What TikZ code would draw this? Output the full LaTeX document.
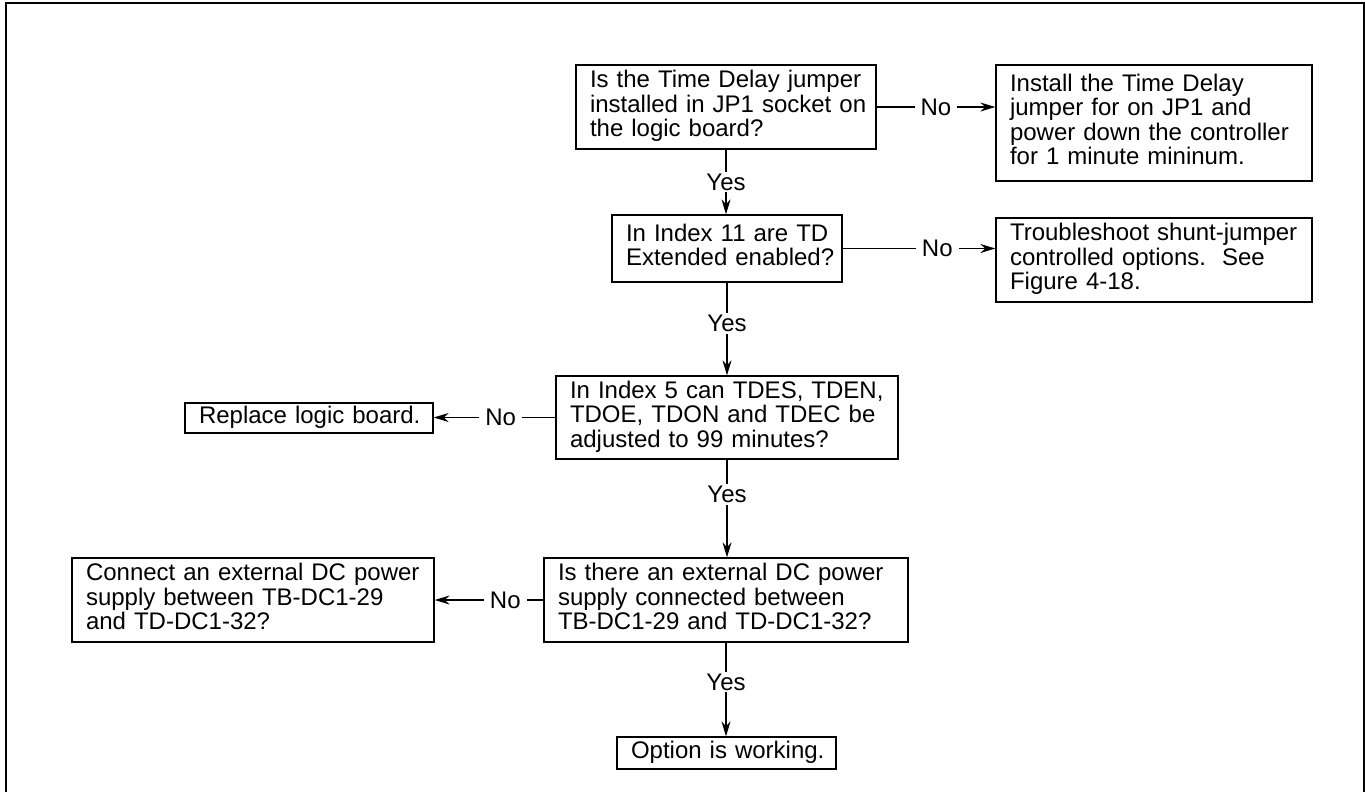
\documentclass[tikz,border=0pt]{standalone}
\usepackage{fontspec}
\setmainfont{Liberation Sans}
\usetikzlibrary{arrows.meta}

\newcommand{\boxlines}[1]{\begin{tabular}{@{}l@{}}#1\end{tabular}}

\tikzset{
  box/.style={draw, line width=1.3pt, align=left, inner xsep=14pt, inner ysep=0pt,
    font=\fontsize{24}{23.7}\selectfont},
  lbl/.style={fill=white, inner xsep=6pt, inner ysep=2pt,
    font=\fontsize{24}{23.7}\selectfont},
  arr/.style={line width=1.3pt, -{Stealth[length=15pt,width=9pt]}}
}

\begin{document}
\begin{tikzpicture}[x=1pt,y=-1pt]
  \useasboundingbox (0,0) rectangle (1365,792);
  \draw[line width=2.5pt] (6,792) -- (6,3) -- (1364,3) -- (1364,792);

  \node[box, text width=272pt, minimum height=84pt] (q1) at (726,107)
    {\boxlines{Is the Time Delay jumper\\installed in JP1 socket on\\the logic board?}};
  \node[box, text width=288pt, minimum height=116pt] (a1) at (1154,123)
    {\boxlines{Install the Time Delay\\jumper for on JP1 and\\power down the controller\\for 1 minute mininum.}};
  \node[box, text width=202pt, minimum height=67pt] (q2) at (727,248.5)
    {\boxlines{In Index 11 are TD\\Extended enabled?}};
  \node[box, text width=288pt, minimum height=84pt] (a2) at (1154,260)
    {\boxlines{Troubleshoot shunt-jumper\\controlled options.\ \ See\\Figure 4-18.}};
  \node[box, text width=314pt, minimum height=83pt] (q3) at (727,417.5)
    {\boxlines{In Index 5 can TDES, TDEN,\\TDOE, TDON and TDEC be\\adjusted to 99 minutes?}};
  \node[box, text width=220pt, minimum height=30pt] (a3) at (309,418)
    {\boxlines{Replace logic board.}};
  \node[box, text width=336pt, minimum height=84pt] (q4) at (726,600)
    {\boxlines{Is there an external DC power\\supply connected between\\TB-DC1-29 and TD-DC1-32?}};
  \node[box, text width=334pt, minimum height=84pt] (a4) at (253,600)
    {\boxlines{Connect an external DC power\\supply between TB-DC1-29\\and TD-DC1-32?}};
  \node[box, text width=191pt, minimum height=32pt] (ok) at (726.5,753)
    {\boxlines{Option is working.}};

  \draw[arr] (q1.south) -- node[lbl]{Yes} (q1.south |- q2.north);
  \draw[arr] (q2.south) -- node[lbl, pos=.44]{Yes} (q2.south |- q3.north);
  \draw[arr] (q3.south) -- node[lbl, pos=.36]{Yes} (q3.south |- q4.north);
  \draw[arr] (q4.south) -- node[lbl, pos=.42]{Yes} (q4.south |- ok.north);

  \draw[arr] (q1.east) -- node[lbl]{No} (q1.east -| a1.west);
  \draw[arr] (q2.east) -- node[lbl, pos=.62]{No} (q2.east -| a2.west);
  \draw[arr] (q3.west) -- node[lbl, pos=.45]{No} (q3.west -| a3.east);
  \draw[arr] (q4.west) -- node[lbl, pos=.35]{No} (q4.west -| a4.east);
\end{tikzpicture}
\end{document}
